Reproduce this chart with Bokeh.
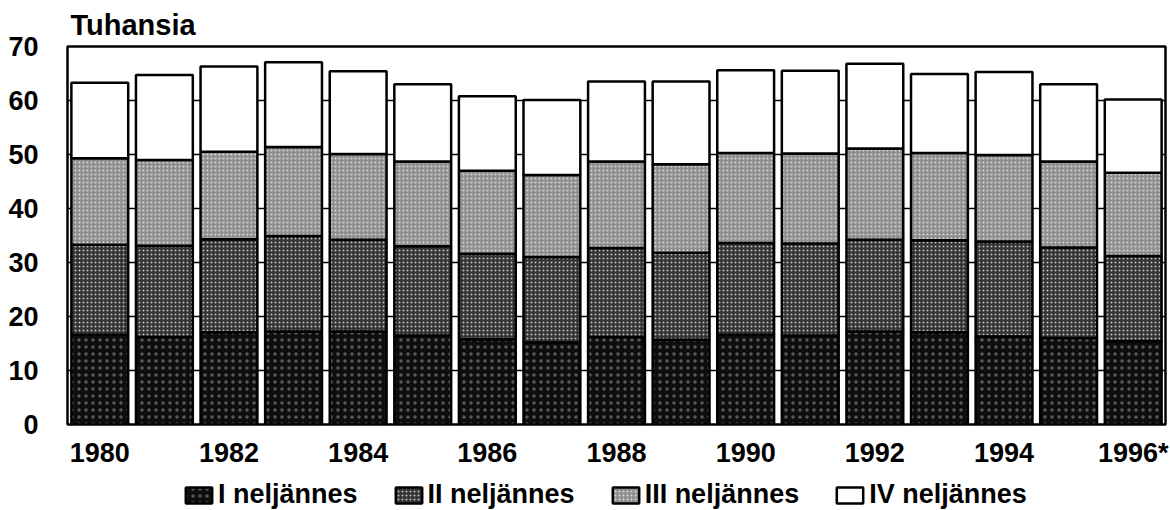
import numpy as np
from bokeh.plotting import figure
from bokeh.layouts import column, row
from bokeh.models import FixedTicker, Legend, LegendItem, Range1d, Spacer
from bokeh.embed import file_html
from bokeh.resources import INLINE

years = list(range(1980, 1997))
q1 = [16.6, 16.2, 17.1, 17.2, 17.2, 16.5, 15.8, 15.2, 16.2, 15.7, 16.6, 16.5, 17.2, 17.1, 16.3, 16.0, 15.4]
q2 = [16.7, 16.9, 17.2, 17.7, 17.0, 16.5, 15.8, 15.8, 16.5, 16.1, 17.0, 17.0, 17.0, 17.0, 17.6, 16.8, 15.8]
q3 = [16.0, 15.9, 16.2, 16.5, 15.9, 15.7, 15.4, 15.2, 16.0, 16.4, 16.7, 16.7, 16.9, 16.2, 16.0, 15.9, 15.4]
q4 = [14.0, 15.7, 15.8, 15.7, 15.3, 14.3, 13.8, 13.9, 14.8, 15.3, 15.3, 15.3, 15.7, 14.6, 15.4, 14.3, 13.6]
series_labels = ["I neljännes", "II neljännes", "III neljännes", "IV neljännes"]
tick_years = [1980, 1982, 1984, 1986, 1988, 1990, 1992, 1994, 1996]
tick_labels = ["1980", "1982", "1984", "1986", "1988", "1990", "1992", "1994", "1996*"]
y_ticks = [0, 10, 20, 30, 40, 50, 60, 70]
series = [q1, q2, q3, q4]

FONT = "Liberation Sans"
fills = ["#0e0e0e", "#333333", "#8f8f8f", "white"]
hatches = [("dot", "#5a5a5a", 7), ("dot", "#c0c0c0", 4), ("dot", "#dadada", 4), (None, None, None)]


def style_kw(i):
    kw = dict(fill_color=fills[i], line_color="black", line_width=2.5)
    hp, hc, hs = hatches[i]
    if hp:
        kw.update(hatch_pattern=hp, hatch_color=hc, hatch_scale=hs, hatch_weight=1)
    return kw


p = figure(width=1166, height=470, output_backend="svg", toolbar_location=None,
           x_range=Range1d(1979.5, 1996.5), y_range=Range1d(0, 70))
p.min_border_left = 61
p.min_border_right = 6
p.min_border_top = 38
p.min_border_bottom = 44

p.title.text = "Tuhansia"
p.title.text_font = FONT
p.title.text_font_size = "29px"
p.title.text_font_style = "bold"
p.title.text_color = "black"
p.title.align = "left"
p.title.offset = 3
p.title.standoff = 12

p.outline_line_color = "black"
p.outline_line_width = 2.5
p.outline_line_alpha = 1.0

p.xgrid.visible = False
p.ygrid.ticker = FixedTicker(ticks=y_ticks)
p.ygrid.grid_line_color = "black"
p.ygrid.grid_line_width = 1.5
p.ygrid.grid_line_alpha = 1.0

arr = np.array(series)
cum = np.cumsum(arr, axis=0)
bottoms = np.vstack([np.zeros(len(years)), cum[:-1]])

for i in range(4):
    p.vbar(x=years, bottom=bottoms[i], top=cum[i], width=0.88, **style_kw(i))

xa = p.xaxis[0]
xa.ticker = FixedTicker(ticks=tick_years)
xa.major_label_overrides = {float(k): v for k, v in zip(tick_years, tick_labels)}
xa.axis_line_color = None
xa.major_tick_line_color = None
xa.minor_tick_line_color = None
xa.major_tick_out = 0
xa.major_tick_in = 0
xa.major_label_standoff = 13
xa.major_label_text_font = FONT
xa.major_label_text_font_size = "27px"
xa.major_label_text_font_style = "bold"
xa.major_label_text_color = "black"

ya = p.yaxis[0]
ya.ticker = FixedTicker(ticks=y_ticks)
ya.axis_line_color = None
ya.major_tick_line_color = None
ya.minor_tick_line_color = None
ya.major_tick_out = 0
ya.major_tick_in = 0
ya.major_label_standoff = 29
ya.major_label_text_font = FONT
ya.major_label_text_font_size = "27px"
ya.major_label_text_font_style = "bold"
ya.major_label_text_color = "black"

# legend strip below the chart; its renderers are hidden, only the legend shows
pl = figure(width=1154, height=40, output_backend="svg", toolbar_location=None,
            x_range=Range1d(0, 1), y_range=Range1d(0, 1),
            x_axis_type=None, y_axis_type=None)
pl.min_border = 0
pl.min_border_left = 0
pl.min_border_right = 0
pl.min_border_top = 0
pl.min_border_bottom = 0
pl.outline_line_color = None
pl.grid.visible = False
leg_renderers = []
for i in range(4):
    r = pl.vbar(x=years, top=series[i], width=0.88, **style_kw(i))
    r.visible = False
    leg_renderers.append(r)

legend = Legend(items=[LegendItem(label=series_labels[i], renderers=[leg_renderers[i]]) for i in range(4)],
                orientation="horizontal", location=(182, 0))
legend.glyph_width = 33
legend.glyph_height = 20
legend.label_standoff = 3
legend.spacing = 34
legend.padding = 0
legend.margin = 0
legend.border_line_color = None
legend.background_fill_alpha = 0
legend.inactive_fill_alpha = 0
legend.label_text_font = FONT
legend.label_text_font_size = "27px"
legend.label_text_font_style = "bold"
legend.label_text_color = "black"
pl.add_layout(legend, "center")

layout = column(row(Spacer(width=5), p, spacing=0), pl, spacing=0)
open("out.html", "w").write(file_html(layout, INLINE))
